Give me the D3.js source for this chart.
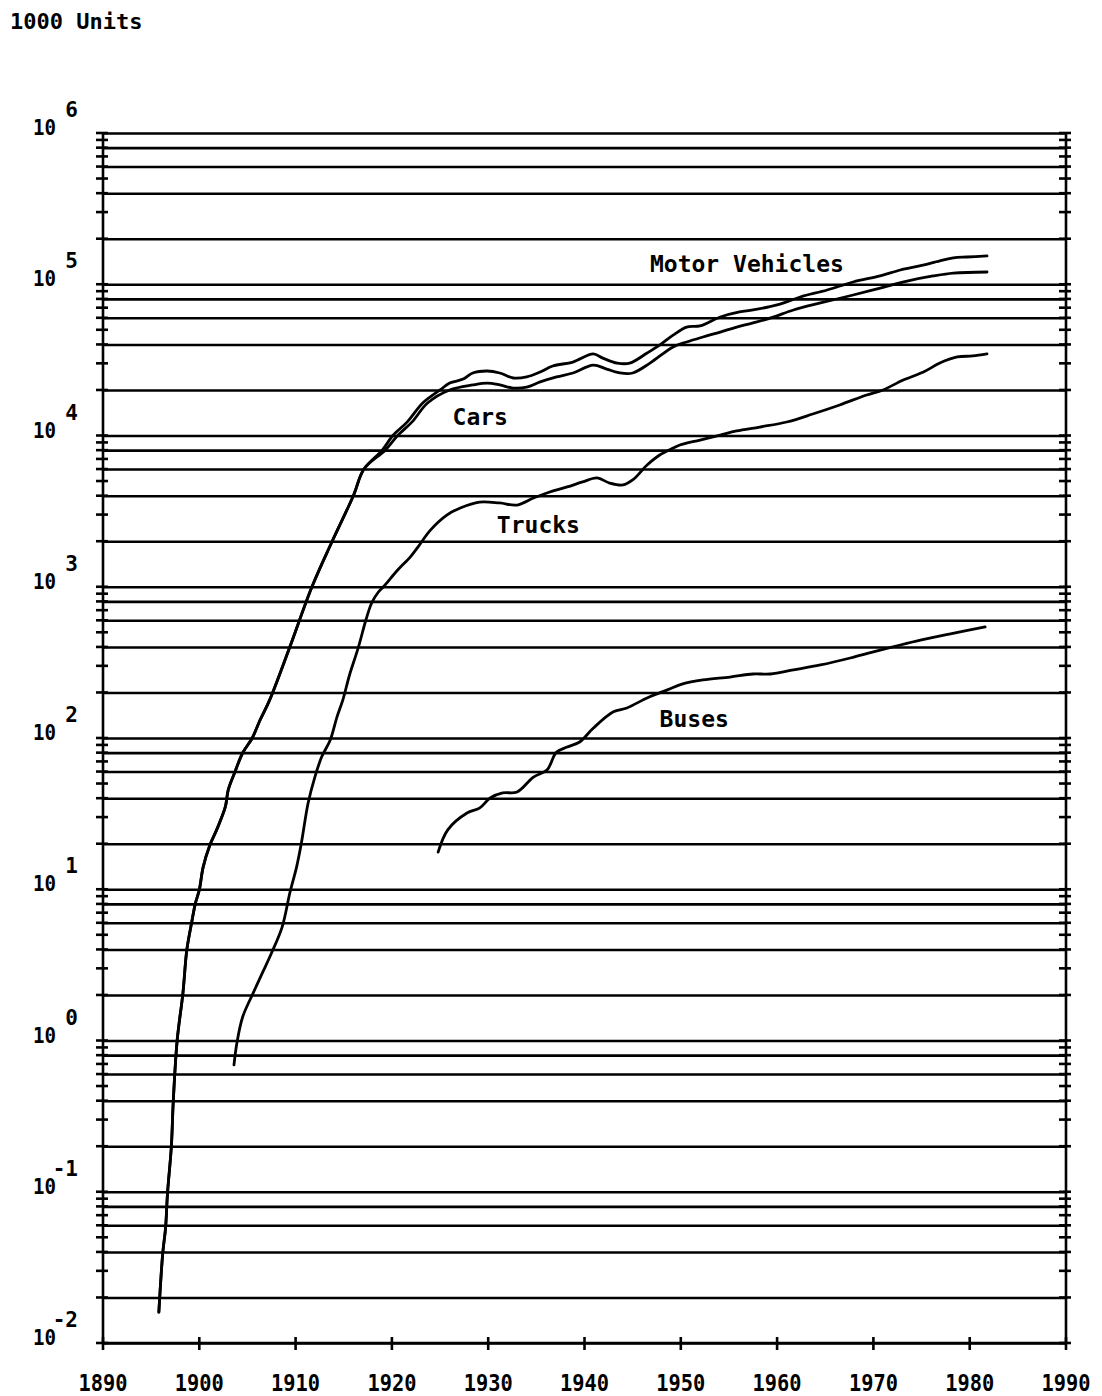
<!DOCTYPE html>
<html>
<head>
<meta charset="utf-8">
<script src="https://cdn.jsdelivr.net/npm/d3@7"></script>
<style>
  body { margin: 0; background: #fff; }
  svg { display: block; }
  text { font-family: 'DejaVu Sans Mono', monospace; font-weight: bold; fill: #000; }
</style>
</head>
<body>
<div id="chart"></div>
<script>
// axis values
const decadeTicks = d3.range(1890, 1991, 10)
const exponents = d3.range(-2, 7)
const gridMultiples = [1, 2, 4, 6, 8]
const tickMultiples = [1, 2, 3, 4, 5, 6, 7, 8, 9]
const unitLabel = '1000 Units'

// series, [year, 1000 units]
const motorVehicles = [
  [1895.8, 0.016], [1896.2, 0.039], [1896.5, 0.058], [1896.7, 0.098], [1897.1, 0.2],
  [1897.3, 0.4], [1897.7, 1.0], [1898.3, 2.06], [1898.7, 3.96], [1899.2, 6.0],
  [1899.6, 8.1], [1900.0, 9.9], [1900.4, 14], [1901.1, 19.6], [1901.8, 24.7],
  [1902.7, 35], [1903.0, 45.3], [1903.7, 59.6], [1904.5, 79.6], [1905.5, 100],
  [1906.3, 131], [1907.3, 178], [1909.4, 400], [1911.7, 1000], [1913.8, 2000],
  [1916.0, 4000], [1917.1, 6000], [1919.0, 8000], [1920.1, 10000], [1921.6, 12300],
  [1923.2, 16400], [1925.0, 20000], [1926.0, 22200], [1927.4, 23600], [1928.4, 25900],
  [1929.9, 26700], [1931.2, 25900], [1932.6, 24000], [1934.0, 24400], [1935.4, 26300],
  [1936.7, 28800], [1938.8, 30600], [1940.9, 34600], [1941.9, 32500], [1943.4, 30100],
  [1944.7, 30100], [1946.5, 35100], [1947.8, 39600], [1949.2, 46100], [1950.6, 52100],
  [1952.0, 53000], [1954.1, 60700], [1956.1, 65600], [1957.5, 67600], [1960.3, 74000],
  [1962.4, 82400], [1965.2, 91600], [1967.9, 103500], [1970.7, 113500], [1972.8, 124200],
  [1974.8, 132100], [1976.9, 142600], [1978.3, 149300], [1979.7, 151400], [1981.8, 153800]
]

const cars = [
  [1895.8, 0.016], [1896.2, 0.039], [1896.5, 0.058], [1896.7, 0.098], [1897.1, 0.2],
  [1897.3, 0.4], [1897.7, 1.0], [1898.3, 2.06], [1898.7, 3.96], [1899.2, 6.0],
  [1899.6, 8.1], [1900.0, 9.9], [1900.4, 14], [1901.1, 19.6], [1901.8, 24.7],
  [1902.7, 35], [1903.0, 45.3], [1903.7, 59.6], [1904.5, 79.6], [1905.5, 100],
  [1906.3, 131], [1907.3, 178], [1909.4, 400], [1911.7, 1000], [1913.8, 2000],
  [1916.0, 4000], [1917.1, 6000], [1919.3, 8000], [1920.6, 10000], [1922.1, 12300],
  [1923.7, 16400], [1926.0, 20000], [1928.4, 21600], [1929.9, 22200], [1931.2, 21600],
  [1932.6, 20600], [1934.0, 20900], [1935.4, 22600], [1937.1, 24400], [1938.8, 25900],
  [1940.9, 29200], [1942.3, 27500], [1943.7, 25900], [1945.0, 25900], [1946.8, 30100],
  [1949.2, 38500], [1950.6, 41500], [1952.3, 44800], [1954.1, 48300], [1955.8, 52100],
  [1957.5, 55500], [1959.6, 60700], [1961.7, 67600], [1964.5, 75200], [1967.9, 84900],
  [1970.7, 94400], [1973.5, 105000], [1976.2, 113500], [1978.3, 118600], [1981.8, 120500]
]

const trucks = [
  [1903.6, 0.69], [1903.9, 0.96], [1904.5, 1.43], [1905.5, 2.0], [1906.6, 2.84],
  [1907.5, 3.79], [1908.6, 5.62], [1909.4, 9.44], [1910.1, 14.0], [1910.6, 20.2],
  [1911.3, 37.2], [1912.0, 55.2], [1912.7, 74.8], [1913.6, 97], [1914.3, 138],
  [1914.9, 178], [1915.6, 261], [1916.5, 394], [1917.3, 603], [1917.9, 781],
  [1918.6, 923], [1919.3, 1030], [1920.6, 1290], [1921.9, 1570], [1922.7, 1830],
  [1924.0, 2370], [1925.7, 2980], [1927.1, 3320], [1929.1, 3630], [1931.2, 3580],
  [1933.0, 3470], [1934.7, 3860], [1936.1, 4170], [1938.2, 4570], [1939.8, 4930],
  [1941.3, 5240], [1942.6, 4850], [1944.0, 4710], [1945.0, 5080], [1946.5, 6380],
  [1947.8, 7430], [1949.2, 8260], [1949.9, 8650], [1952.0, 9330], [1954.1, 10070],
  [1955.8, 10710], [1958.2, 11380], [1961.0, 12280], [1963.7, 13870], [1966.5, 15920],
  [1969.3, 18530], [1971.0, 20000], [1973.1, 23280], [1975.2, 26300], [1976.9, 30130],
  [1978.7, 33040], [1980.3, 33570], [1981.8, 34590]
]

const buses = [
  [1924.8, 17.6], [1925.8, 24.7], [1927.8, 31.9], [1929.1, 34.4], [1930.2, 40.1],
  [1931.5, 43.3], [1933.0, 44.0], [1934.7, 55.2], [1936.1, 61.4], [1937.1, 80.7],
  [1938.2, 87.1], [1939.5, 94.1], [1940.9, 116], [1943.0, 149], [1944.4, 158],
  [1946.5, 184], [1948.6, 208], [1950.2, 228], [1952.3, 242], [1955.1, 253],
  [1957.5, 265], [1959.3, 265], [1961.7, 282], [1964.5, 304], [1967.6, 338],
  [1970.0, 371], [1972.8, 412], [1975.0, 445], [1978.0, 488], [1981.6, 542]
]

const seriesNames = ['Motor Vehicles', 'Cars', 'Trucks', 'Buses']
// label anchors in data units: [year, value at text baseline]
const labelAnchors = [[1946.8, 120500], [1926.3, 11730], [1930.9, 2265], [1947.8, 118]]

const W = 1102
const H = 1396
const margin = { top: 133, right: 36, bottom: 53, left: 103 }

const svg = d3.select('#chart').append('svg')
  .attr('width', W)
  .attr('height', H)

const x = d3.scaleLinear()
  .domain([1890, 1990])
  .range([margin.left, W - margin.right])
const y = d3.scaleLog()
  .domain([1e-2, 1e6])
  .range([H - margin.bottom, margin.top])

const x0 = x.range()[0]
const x1 = x.range()[1]
const yBottom = y.range()[0]
const yTop = y.range()[1]

// gridlines at 1, 2, 4, 6, 8 of every decade
const gridValues = exponents.slice(0, -1)
  .flatMap(e => gridMultiples.map(m => +(m + 'e' + e)))
  .concat([1e6])
svg.append('g')
  .attr('transform', `translate(${x0}, 0)`)
  .call(d3.axisLeft(y).tickValues(gridValues).tickSize(-(x1 - x0)).tickFormat(''))
  .call(g => g.select('.domain').remove())
  .call(g => g.selectAll('.tick line').attr('stroke', '#000').attr('stroke-width', 2.6))

// axis frame: left, right, bottom
const frame = svg.append('g').attr('stroke', '#000').attr('stroke-width', 2.6)
frame.append('line').attr('x1', x0).attr('x2', x0).attr('y1', yTop - 1).attr('y2', yBottom + 1)
frame.append('line').attr('x1', x1).attr('x2', x1).attr('y1', yTop - 1).attr('y2', yBottom + 1)
frame.append('line').attr('x1', x0).attr('x2', x1).attr('y1', yBottom).attr('y2', yBottom)

// small cross ticks on both vertical axes
const tickValues = exponents.slice(0, -1)
  .flatMap(e => tickMultiples.map(m => +(m + 'e' + e)))
  .concat([1e6])
;[x0, x1].forEach(ax => {
  frame.append('g')
    .selectAll('line')
    .data(tickValues)
    .join('line')
    .attr('x1', ax - 7)
    .attr('x2', ax + 5)
    .attr('y1', d => y(d))
    .attr('y2', d => y(d))
})

// year ticks
frame.append('g')
  .selectAll('line')
  .data(decadeTicks)
  .join('line')
  .attr('x1', d => x(d))
  .attr('x2', d => x(d))
  .attr('y1', yBottom - 6)
  .attr('y2', yBottom + 7)

svg.append('g')
  .selectAll('text')
  .data(decadeTicks)
  .join('text')
  .attr('x', d => x(d))
  .attr('y', yBottom + 48)
  .attr('text-anchor', 'middle')
  .attr('font-size', 23)
  .attr('textLength', 49)
  .attr('lengthAdjust', 'spacingAndGlyphs')
  .text(d => d)

// y labels: 10 with superscript exponent
const yLabels = svg.append('g')
  .selectAll('g')
  .data(exponents)
  .join('g')
yLabels.append('text')
  .attr('x', 56)
  .attr('y', d => y(Math.pow(10, d)) + 2)
  .attr('text-anchor', 'end')
  .attr('font-size', 21)
  .attr('textLength', 23)
  .attr('lengthAdjust', 'spacingAndGlyphs')
  .text('10')
yLabels.append('text')
  .attr('x', 78)
  .attr('y', d => y(Math.pow(10, d)) - 16)
  .attr('text-anchor', 'end')
  .attr('font-size', 21)
  .text(d => d)

svg.append('text')
  .attr('x', 10)
  .attr('y', 29)
  .attr('font-size', 22)
  .text(unitLabel)

// curves
const line = d3.line()
  .x(d => x(d[0]))
  .y(d => y(d[1]))
  .curve(d3.curveCatmullRom.alpha(0.5))

svg.append('g')
  .selectAll('path')
  .data([motorVehicles, cars, trucks, buses])
  .join('path')
  .attr('d', line)
  .attr('fill', 'none')
  .attr('stroke', '#000')
  .attr('stroke-width', 2.8)
  .attr('stroke-linejoin', 'round')
  .attr('stroke-linecap', 'round')

svg.append('g')
  .selectAll('text')
  .data(seriesNames)
  .join('text')
  .attr('x', (d, i) => x(labelAnchors[i][0]))
  .attr('y', (d, i) => y(labelAnchors[i][1]))
  .attr('font-size', 23)
  .text(d => d)
</script>
</body>
</html>
